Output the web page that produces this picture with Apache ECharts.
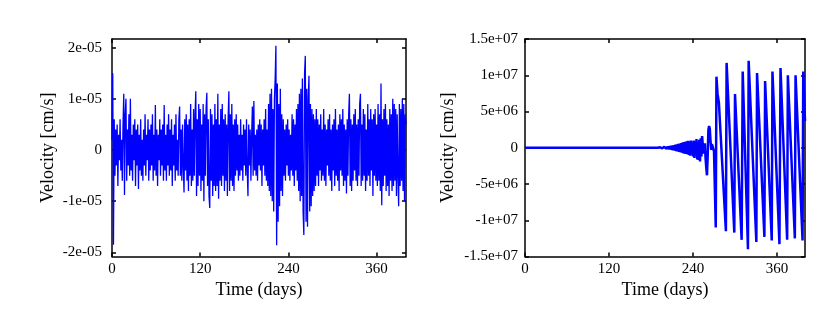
<!DOCTYPE html>
<html>
<head>
<meta charset="utf-8">
<script src="https://cdn.jsdelivr.net/npm/echarts@6/dist/echarts.min.js"></script>
<style>
  html, body { margin: 0; padding: 0; background: #ffffff; }
  #chart { width: 831px; height: 321px; }
</style>
</head>
<body>
<div id="chart"></div>
<script>
// left panel: velocity in units of 1e-6 cm/s, one value per day (day 0..400)
const leftVel = [
  2, 15, -18.5, 6, -5, 4, -3, 5, -7, 3, -2, 6, -4, 2, -6, 5, 11, -8.8, 7, 10,
  -6, 4, -3, 7, -5, 10, -4, 3, -6, 5, -2, 6, -7, 4, -3, 5, -7.6, 3, -4, 6,
  -5, 2, -6, 4, -3, 7, -5, 3, -2, 6, -6, 4, -4, 5, -3, 7, -6, 3, -4, 8.8,
  -5, 4, -7, 3, -2, 6, -5, 4, -3, 5, -6, 8.8, -4, 3, -6, 5, -3, 7, -5, 4,
  -4, 6, -7, 3, -3, 5, -6, 7, -4, 2, -5, 6, 8.5, -5, 4, -6, 5, -3, -8.3, 6,
  -4, 7, -6, 5, -8, 6, -5, 9, -7, 4, -6, 8, -5, 7, 11.5, -9, 6, -7, 9, -5,
  8, -8, 5, -6, 9, -10, 7, -5, 8, 11.2, -7, 6, -9, -11.3, 8, -6, 7, -9, 5, -7,
  9, -8, 6, -7, 11, -9.5, 5, -6, 8, -7, 9, -5, 6, -8, 7, -6, 5, -9, 6, 11.5,
  -8, 7, -6, 9, -7, 5, -8, 6, -5, 7, -4, 5, -6, 3, -5, 6, -4, 3, -6, 5,
  -3, 4, -5, 6, -4, -9, 5, -3, 4, -6, 3, 8.5, -5, 9.6, -4, 3, -5, 4, -6, 5,
  -3, 6, -4, 5, -7, 4, -3, 6, -5, 8, -6, 4, -7, 9, -8, 11, -9, 12, -10, 8,
  -12, 10, 14, 20.4, -18.6, 13, -14, 9, -11, 12, -8, 7, -9, 6, -5, 4, -6, 5, -3, 6,
  -5, 4, -6, 3, -4, 7, -5, 6, -7, 5, -4, 8, -6, 9, -8, 11, -10, 12, -9, 14,
  -12, -16.6, 15, 18.4, -14, 12, -15, 10, 14.5, -12, 9, -11, 8, -9, 7, -8, 6, -7, 8, -5,
  6, -7, 5, -4, 7, -6, 4, -5, 8, -6, 5, -7, 4, -3, 6, -5, 7, -6, 4, -8,
  5, -4, 6, -7, 8, -5, 4, -6, 5, -8, 7, -4, 6, -5, 8, -7, 5, -6, 4, -8.5,
  6, -5, 7, 11, -7, 6, -8, 5, -6, 7, -4, 8, -6, 5, -7, 6, -5, 9, 11, -7,
  5, -6, 8, -5, 7, -8, 4, -6, 9, -5, 6, -7, 8, -4, 6, -9, 7, -5, 8, -6,
  5, -7, 9, -6, 7, -8, 13, -10.8, 6, -7, 8, -5, 9, -8, 6, -7, 5, -9, 8, -6,
  7, -8, 10, -7, 9, -6, 8, -9, 7, -5, -11, 9, -7, 8, -6, 10, -8, 9, -10, 7, 5
]

// right panel: velocity in units of 1e6 cm/s
const rightFlatDays = [0, 190]
const rightFlatVals = [0, 0]
const rightDailyStart = 191
const rightDailyVals = [
  0.05, -0.05, 0.06, -0.07, 0.08, -0.08, 0.1, -0.1, 0.12, -0.12,
  0.14, -0.15, 0.17, -0.18, 0.2, -0.22, 0.24, -0.25, 0.28, -0.3,
  0.32, -0.34, 0.37, -0.4, 0.42, -0.45, 0.48, -0.5, 0.52, -0.56,
  0.58, -0.62, 0.65, -0.68, 0.7, -0.75, 0.78, -0.8, 0.82, -0.85,
  0.9, -0.9, 0.95, -1.0, 0.85, -1.1, 1.0, -0.9, 0.7, -1.2,
  1.0, -1.4, 0.9, -1.0, 1.2, -1.6, 0.8, -1.7, 1.1, -1.9,
  1.3, -1.2, 1.6, 1.5, -0.8, -0.3, 0.6, -1.5, -2.8, -3.8, -1.0
]
const rightTailDays = [262, 263, 264, 265, 266, 267, 268, 270, 272.5, 273.5, 275, 277,
  287, 288, 299, 300, 309.5, 311, 318.5, 319.5, 330.5, 331.5, 342, 343,
  352.5, 353.5, 363.5, 365, 374.5, 375.5, 385.5, 386.5, 396.5, 397.5, 400]
const rightTailVals = [2.5, 3.0, 2.6, 1.0, -0.3, 0.5, 0.2, -0.5, -11.0, 9.8, 7.5, 6.2,
  -11.5, 11.7, -11.7, 7.4, -12.7, 10.5, -14.0, 12.0, -13.0, 10.3, -12.3, 9.2,
  -12.8, 10.5, -13.3, 11.0, -12.7, 10.0, -12.5, 10.0, -12.8, 10.5, 3.7]

const xTicks = [0, 120, 240, 360]
const leftYTicks = [-20, -10, 0, 10, 20]
const leftYLabels = ['-2e-05', '-1e-05', '0', '1e-05', '2e-05']
const rightYTicks = [-15, -10, -5, 0, 5, 10, 15]
const rightYLabels = ['-1.5e+07', '-1e+07', '-5e+06', '0', '5e+06', '1e+07', '1.5e+07']

const leftData = leftVel.map((v, i) => [i, v])
const rightData = []
rightFlatDays.forEach((d, i) => rightData.push([d, rightFlatVals[i]]))
rightDailyVals.forEach((v, i) => rightData.push([rightDailyStart + i, v]))
rightTailDays.forEach((d, i) => rightData.push([d, rightTailVals[i]]))

const FONT = 'Liberation Serif'
const lineStyle = { color: '#000', width: 1.5 }

const labelFor = (ticks, labels) => v => {
  const k = ticks.findIndex(t => Math.abs(t - v) < 1e-9)
  return k >= 0 ? labels[k] : ''
}

const makeX = (gridIndex, top) => ({
  type: 'value',
  gridIndex,
  position: top ? 'top' : 'bottom',
  min: 0,
  max: 400,
  name: top ? '' : 'Time (days)',
  nameLocation: 'middle',
  nameGap: 19,
  nameTextStyle: { fontFamily: FONT, fontSize: 18, color: '#000' },
  axisLine: { show: true, onZero: false, lineStyle },
  axisTick: { show: true, inside: true, length: 4, customValues: xTicks, lineStyle },
  axisLabel: {
    show: !top, customValues: xTicks, margin: 5,
    fontFamily: FONT, fontSize: 15, color: '#000'
  },
  splitLine: { show: false }
})

const makeY = (gridIndex, right, min, max, ticks, labels, gap, margin) => ({
  type: 'value',
  gridIndex,
  position: right ? 'right' : 'left',
  min,
  max,
  name: right ? '' : 'Velocity [cm/s]',
  nameLocation: 'middle',
  nameGap: gap,
  nameTextStyle: { fontFamily: FONT, fontSize: 18, color: '#000' },
  axisLine: { show: true, onZero: false, lineStyle },
  axisTick: { show: true, inside: true, length: 4, customValues: ticks, lineStyle },
  axisLabel: {
    show: !right, customValues: ticks, margin,
    fontFamily: FONT, fontSize: 15, color: '#000',
    formatter: labelFor(ticks, labels)
  },
  splitLine: { show: false }
})

const chart = echarts.init(document.getElementById('chart'), null, { renderer: 'canvas' })
chart.setOption({
  backgroundColor: '#ffffff',
  animation: false,
  grid: [
    { left: 112, top: 39, width: 294, height: 217.5 },
    { left: 525, top: 39, width: 280, height: 217.5 }
  ],
  xAxis: [makeX(0, false), makeX(0, true), makeX(1, false), makeX(1, true)],
  yAxis: [
    makeY(0, false, -20.8, 21.7, leftYTicks, leftYLabels, 55, 10),
    makeY(0, true, -20.8, 21.7, leftYTicks, leftYLabels, 55, 10),
    makeY(1, false, -15, 15, rightYTicks, rightYLabels, 68, 7),
    makeY(1, true, -15, 15, rightYTicks, rightYLabels, 68, 7)
  ],
  series: [
    {
      type: 'line',
      xAxisIndex: 0,
      yAxisIndex: 0,
      data: leftData,
      showSymbol: false,
      lineStyle: { color: '#0000ff', width: 1.3 },
      z: 1
    },
    {
      type: 'line',
      xAxisIndex: 2,
      yAxisIndex: 2,
      data: rightData,
      showSymbol: false,
      lineStyle: { color: '#0000ff', width: 2.5 },
      z: 1
    }
  ]
})
</script>
</body>
</html>
